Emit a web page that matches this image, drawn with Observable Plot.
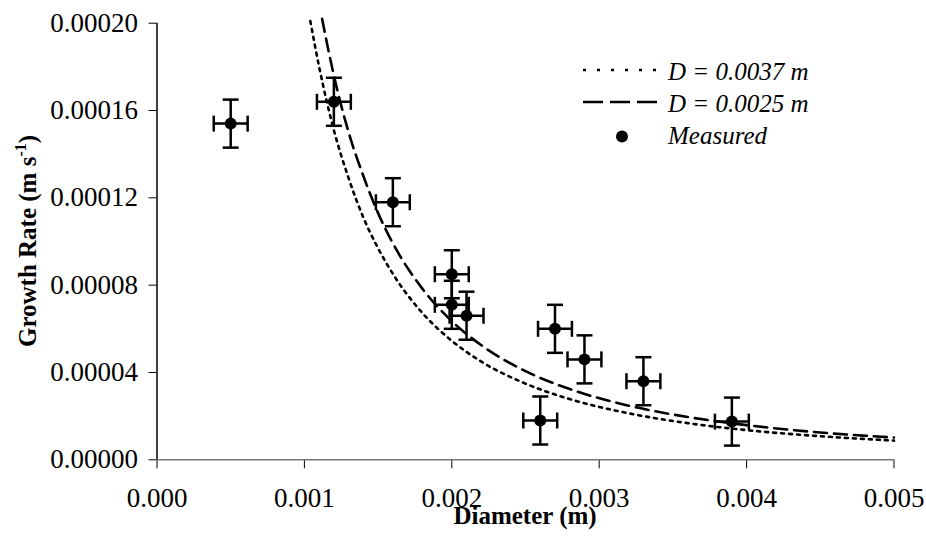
<!DOCTYPE html>
<html>
<head>
<meta charset="utf-8">
<script src="https://cdn.jsdelivr.net/npm/d3@7"></script>
<script src="https://cdn.jsdelivr.net/npm/@observablehq/plot@0.6"></script>
<style>
  html, body { margin: 0; padding: 0; background: #fff; }
  #chart { width: 926px; height: 540px; }
</style>
</head>
<body>
<div id="chart"></div>
<script>
// ---- Data ----
const xTicks = [0, 0.001, 0.002, 0.003, 0.004, 0.005];
const yTicks = [0, 0.00004, 0.00008, 0.00012, 0.00016, 0.00020];

// Measured points
const measuredX = [0.0005, 0.0012, 0.0016, 0.0020, 0.0020, 0.0021, 0.0026, 0.0027, 0.0029, 0.0033, 0.0039];
const measuredY = [0.000154, 0.000164, 0.000118, 0.000085, 0.000071, 0.000066, 0.000018, 0.000060, 0.000046, 0.000036, 0.0000175];
const measuredXErr = [0.000115, 0.000115, 0.000115, 0.000115, 0.000115, 0.000115, 0.000115, 0.000115, 0.000115, 0.000115, 0.000115];
const measuredYErr = [0.000011, 0.000011, 0.000011, 0.000011, 0.000011, 0.000011, 0.000011, 0.000011, 0.000011, 0.000011, 0.000011];

// Model curve D = 0.0037 m (dotted)
const curveAX = [0.00104, 0.0011, 0.0012, 0.0013, 0.0014, 0.0015, 0.0016, 0.0018, 0.0020, 0.0022, 0.0025, 0.0028, 0.0032, 0.0036, 0.0040, 0.0045, 0.0050];
const curveAY = [0.000201, 0.000180, 0.000151, 0.000129, 0.000111, 0.0000969, 0.0000852, 0.0000673, 0.0000545, 0.0000450, 0.0000349, 0.0000278, 0.0000213, 0.0000168, 0.0000136, 0.0000108, 0.0000088];

// Model curve D = 0.0025 m (dashed)
const curveBX = [0.00112, 0.0012, 0.0013, 0.0014, 0.0015, 0.0016, 0.0018, 0.0020, 0.0022, 0.0025, 0.0028, 0.0032, 0.0036, 0.0040, 0.0045, 0.0050];
const curveBY = [0.000202, 0.000176, 0.000150, 0.000130, 0.000113, 0.0000992, 0.0000784, 0.0000635, 0.0000525, 0.0000406, 0.0000324, 0.0000248, 0.0000196, 0.0000159, 0.0000125, 0.0000102];

const legendLabels = ["D = 0.0037 m", "D = 0.0025 m", "Measured"];

// ---- Build tables ----
const measured = measuredX.map((x, i) => ({x, y: measuredY[i], xe: measuredXErr[i], ye: measuredYErr[i]}));
const curveA = curveAX.map((x, i) => ({x, y: curveAY[i]}));
const curveB = curveBX.map((x, i) => ({x, y: curveBY[i]}));

const FONT = '"Liberation Serif", "Times New Roman", Times, serif';

// custom cap symbols (pixel sized)
const hCap = {draw(ctx) { ctx.moveTo(-8, 0); ctx.lineTo(8, 0); }};
const vCap = {draw(ctx) { ctx.moveTo(0, -8); ctx.lineTo(0, 8); }};

const plot = Plot.plot({
  width: 926,
  height: 540,
  marginLeft: 156.5,
  marginRight: 32.5,
  marginTop: 22.7,
  marginBottom: 80.7,
  style: {fontFamily: FONT, fontSize: "27px", background: "#fff", color: "#000", overflow: "visible"},
  x: {domain: [0, 0.005]},
  y: {domain: [0, 0.0002]},
  marks: [
    Plot.axisX({ticks: xTicks, tickFormat: d3.format(".3f"), tickSize: 9, tickPadding: 19, label: null, stroke: "#000", fontSize: 27}),
    Plot.axisY({ticks: yTicks, tickFormat: d3.format(".5f"), tickSize: 8, tickPadding: 11, label: null, stroke: "#000", fontSize: 27}),
    Plot.ruleY([0], {stroke: "#777", strokeWidth: 1.5}),
    Plot.ruleX([0], {stroke: "#000", strokeWidth: 1.5}),
    // model curves
    Plot.line(curveA, {x: "x", y: "y", curve: "monotone-x", stroke: "#000", strokeWidth: 2.6, strokeDasharray: "3,5"}),
    Plot.line(curveB, {x: "x", y: "y", curve: "monotone-x", stroke: "#000", strokeWidth: 2.6, strokeDasharray: "13,7"}),
    // error bars
    Plot.ruleX(measured, {x: "x", y1: d => d.y - d.ye, y2: d => d.y + d.ye, stroke: "#000", strokeWidth: 2.5}),
    Plot.ruleY(measured, {y: "y", x1: d => d.x - d.xe, x2: d => d.x + d.xe, stroke: "#000", strokeWidth: 2.5}),
    Plot.dot(measured, {x: "x", y: d => d.y + d.ye, symbol: hCap, stroke: "#000", strokeWidth: 2.5, fill: "none"}),
    Plot.dot(measured, {x: "x", y: d => d.y - d.ye, symbol: hCap, stroke: "#000", strokeWidth: 2.5, fill: "none"}),
    Plot.dot(measured, {x: d => d.x - d.xe, y: "y", symbol: vCap, stroke: "#000", strokeWidth: 2.5, fill: "none"}),
    Plot.dot(measured, {x: d => d.x + d.xe, y: "y", symbol: vCap, stroke: "#000", strokeWidth: 2.5, fill: "none"}),
    Plot.dot(measured, {x: "x", y: "y", r: 6, fill: "#000", stroke: "none"})
  ]
});

document.getElementById("chart").appendChild(plot);

const svg = d3.select(plot);

// Y axis title with superscript
const yt = svg.append("text")
  .attr("transform", "translate(36,241) rotate(-90)")
  .attr("text-anchor", "middle")
  .attr("font-family", FONT)
  .attr("font-weight", "bold")
  .attr("font-size", 25)
  .attr("fill", "#000");
yt.append("tspan").text("Growth Rate (m s");
yt.append("tspan").attr("font-size", 16).attr("dy", -10).text("-1");
yt.append("tspan").attr("dy", 10).text(")");

// X axis title
svg.append("text")
  .attr("x", 525).attr("y", 524)
  .attr("text-anchor", "middle")
  .attr("font-family", FONT)
  .attr("font-weight", "bold")
  .attr("font-size", 25)
  .attr("fill", "#000")
  .text("Diameter (m)");

// Legend
const lg = svg.append("g")
  .attr("font-family", FONT)
  .attr("font-style", "italic")
  .attr("font-size", 25)
  .attr("text-anchor", "start")
  .attr("fill", "#000");
lg.append("line").attr("x1", 583).attr("x2", 665).attr("y1", 70).attr("y2", 70)
  .attr("stroke", "#000").attr("stroke-width", 2.6).attr("stroke-dasharray", "3,11");
lg.append("line").attr("x1", 583).attr("x2", 657).attr("y1", 102).attr("y2", 102)
  .attr("stroke", "#000").attr("stroke-width", 2.6).attr("stroke-dasharray", "20,7");
lg.append("circle").attr("cx", 622).attr("cy", 136.5).attr("r", 6).attr("fill", "#000");
legendLabels.forEach((t, i) => {
  lg.append("text").attr("x", 668).attr("y", [80, 112, 144][i]).attr("text-anchor", "start").text(t);
});
</script>
</body>
</html>
